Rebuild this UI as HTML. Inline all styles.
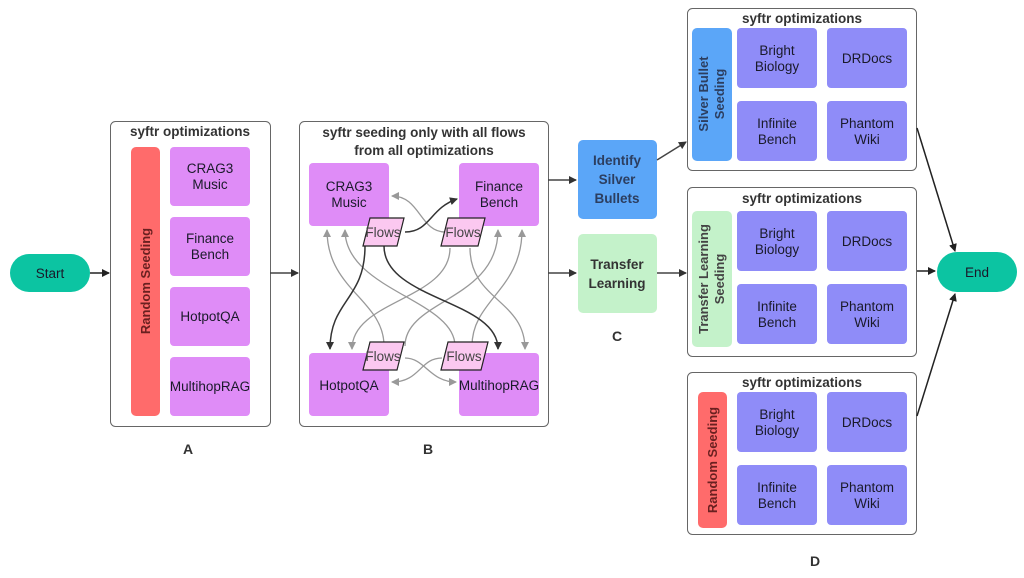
<!DOCTYPE html>
<html><head><meta charset="utf-8"><style>
html,body{margin:0;padding:0;background:#fff;}
svg{display:block;font-family:"Liberation Sans",sans-serif;}
.t{font-size:13.5px;fill:#1a1a2a;text-anchor:middle;}
.b{font-size:13.5px;fill:#333;font-weight:bold;text-anchor:middle;}
.bt{font-size:13px;fill:#444;font-weight:bold;text-anchor:middle;}
</style></head><body>
<svg width="1024" height="578" viewBox="0 0 1024 578" xmlns="http://www.w3.org/2000/svg">
<defs>
<marker id="ah" markerWidth="8" markerHeight="8" refX="7" refY="4" orient="auto" markerUnits="userSpaceOnUse"><path d="M0,0 L8,4 L0,8z" fill="#222"/></marker>
<marker id="ag" markerWidth="8" markerHeight="8" refX="7" refY="4" orient="auto" markerUnits="userSpaceOnUse"><path d="M0,0 L8,4 L0,8z" fill="#999"/></marker>
<marker id="ad" markerWidth="8" markerHeight="8" refX="7" refY="4" orient="auto" markerUnits="userSpaceOnUse"><path d="M0,0 L8,4 L0,8z" fill="#333"/></marker>
</defs>
<rect x="10" y="254" width="80" height="38" rx="19" fill="#0cc4a2"/>
<text x="50" y="278" class="t">Start</text>
<line x1="90" y1="273" x2="109" y2="273" stroke="#222" stroke-width="1.5" marker-end="url(#ah)"/>
<rect x="110.5" y="121.5" width="160" height="305" rx="5" fill="#fff" stroke="#666"/>
<text x="190" y="136" class="b">syftr optimizations</text>
<rect x="131" y="147" width="29" height="269" rx="5" fill="#ff6b6b"/>
<text transform="translate(150,281) rotate(-90)" class="bt" style="fill:#6a2020">Random Seeding</text>
<g fill="#df8cf7">
<rect x="170" y="147" width="80" height="59" rx="4"/><rect x="170" y="217" width="80" height="59" rx="4"/>
<rect x="170" y="287" width="80" height="59" rx="4"/><rect x="170" y="357" width="80" height="59" rx="4"/>
</g>
<text x="210" y="173" class="t">CRAG3</text><text x="210" y="189" class="t">Music</text>
<text x="210" y="243" class="t">Finance</text><text x="210" y="259" class="t">Bench</text>
<text x="210" y="321" class="t">HotpotQA</text>
<text x="210" y="391" class="t">MultihopRAG</text>
<text x="188" y="454" class="b" style="font-size:14px">A</text>
<line x1="270" y1="273" x2="298" y2="273" stroke="#444" stroke-width="1.5" marker-end="url(#ad)"/>
<rect x="299.5" y="121.5" width="249" height="305" rx="5" fill="#fff" stroke="#666"/>
<text x="424" y="137" class="b">syftr seeding only with all flows</text>
<text x="424" y="155" class="b">from all optimizations</text>
<g fill="#df8cf7">
<rect x="309" y="163" width="80" height="63" rx="4"/><rect x="459" y="163" width="80" height="63" rx="4"/>
<rect x="309" y="353" width="80" height="63" rx="4"/><rect x="459" y="353" width="80" height="63" rx="4"/>
</g>
<text x="349" y="191" class="t">CRAG3</text><text x="349" y="207" class="t">Music</text>
<text x="499" y="191" class="t">Finance</text><text x="499" y="207" class="t">Bench</text>
<text x="349" y="390" class="t">HotpotQA</text>
<text x="499" y="390" class="t">MultihopRAG</text>
<g fill="none" stroke="#999" stroke-width="1.3" marker-end="url(#ag)">
<path d="M445,232 C420,232 420,196 392,196"/>
<path d="M384,346 C384,300 327,290 327,230"/>
<path d="M455,346 C455,300 345,290 345,230"/>
<path d="M450,248 C450,300 352,300 352,349"/>
<path d="M405,346 C405,300 498,300 498,230"/>
<path d="M470,248 C470,300 525,300 525,349"/>
<path d="M472,346 C472,300 522,290 522,230"/>
<path d="M442,358 C420,358 420,382 392,382"/>
<path d="M405,358 C425,358 430,382 456,382"/>
</g>
<g fill="none" stroke="#333" stroke-width="1.5" marker-end="url(#ad)">
<path d="M405,232 C430,232 430,208 457,199"/>
<path d="M365,246 C365,300 330,300 330,349"/>
<path d="M384,246 C384,300 498,300 498,349"/>
</g>
<g fill="#fbc8f0" stroke="#222" stroke-width="1.2">
<path d="M370,218 L404,218 L397,246 L363,246z"/>
<path d="M448,218 L485,218 L478,246 L441,246z"/>
<path d="M370,342 L404,342 L397,370 L363,370z"/>
<path d="M448,342 L488,342 L481,370 L441,370z"/>
</g>
<text x="383" y="237" class="t" style="fill:#444">Flows</text>
<text x="463" y="237" class="t" style="fill:#444">Flows</text>
<text x="383" y="361" class="t" style="fill:#444">Flows</text>
<text x="464" y="361" class="t" style="fill:#444">Flows</text>
<text x="428" y="454" class="b" style="font-size:14px">B</text>
<line x1="548" y1="180" x2="576" y2="180" stroke="#444" stroke-width="1.5" marker-end="url(#ad)"/>
<line x1="548" y1="273" x2="576" y2="273" stroke="#444" stroke-width="1.5" marker-end="url(#ad)"/>
<rect x="578" y="140" width="79" height="79" rx="5" fill="#5ba6f8"/>
<text x="617" y="165" class="b" style="fill:#2c3e60">Identify</text>
<text x="617" y="184" class="b" style="fill:#2c3e60">Silver</text>
<text x="617" y="203" class="b" style="fill:#2c3e60">Bullets</text>
<rect x="578" y="234" width="79" height="79" rx="5" fill="#c4f2ca"/>
<text x="617" y="269" class="b">Transfer</text>
<text x="617" y="288" class="b">Learning</text>
<text x="617" y="341" class="b" style="font-size:14px">C</text>
<line x1="657" y1="160" x2="686" y2="142" stroke="#444" stroke-width="1.5" marker-end="url(#ad)"/>
<line x1="657" y1="273" x2="686" y2="273" stroke="#444" stroke-width="1.5" marker-end="url(#ad)"/>
<g>
<rect x="687.5" y="8.5" width="229" height="162" rx="5" fill="#fff" stroke="#666"/>
<text x="802" y="23" class="b">syftr optimizations</text>
<rect x="692" y="28" width="40" height="133" rx="5" fill="#5ba6f8"/>
<text transform="translate(708,94) rotate(-90)" class="bt" style="fill:#2c3e60">Silver Bullet</text>
<text transform="translate(724,94) rotate(-90)" class="bt" style="fill:#2c3e60">Seeding</text>
<g fill="#8f8cf8"><rect x="737" y="28" width="80" height="60" rx="4"/><rect x="827" y="28" width="80" height="60" rx="4"/><rect x="737" y="101" width="80" height="60" rx="4"/><rect x="827" y="101" width="80" height="60" rx="4"/></g>
<text x="777" y="55" class="t">Bright</text><text x="777" y="71" class="t">Biology</text>
<text x="867" y="63" class="t">DRDocs</text>
<text x="777" y="128" class="t">Infinite</text><text x="777" y="144" class="t">Bench</text>
<text x="867" y="128" class="t">Phantom</text><text x="867" y="144" class="t">Wiki</text>
</g>
<g>
<rect x="687.5" y="187.5" width="229" height="169" rx="5" fill="#fff" stroke="#666"/>
<text x="802" y="203" class="b">syftr optimizations</text>
<rect x="692" y="211" width="40" height="136" rx="5" fill="#c4f2ca"/>
<text transform="translate(708,279) rotate(-90)" class="bt">Transfer Learning</text>
<text transform="translate(724,279) rotate(-90)" class="bt">Seeding</text>
<g fill="#8f8cf8"><rect x="737" y="211" width="80" height="60" rx="4"/><rect x="827" y="211" width="80" height="60" rx="4"/><rect x="737" y="284" width="80" height="60" rx="4"/><rect x="827" y="284" width="80" height="60" rx="4"/></g>
<text x="777" y="238" class="t">Bright</text><text x="777" y="254" class="t">Biology</text>
<text x="867" y="246" class="t">DRDocs</text>
<text x="777" y="311" class="t">Infinite</text><text x="777" y="327" class="t">Bench</text>
<text x="867" y="311" class="t">Phantom</text><text x="867" y="327" class="t">Wiki</text>
</g>
<g>
<rect x="687.5" y="372.5" width="229" height="162" rx="5" fill="#fff" stroke="#666"/>
<text x="802" y="387" class="b">syftr optimizations</text>
<rect x="698" y="392" width="29" height="136" rx="5" fill="#ff6b6b"/>
<text transform="translate(717,460) rotate(-90)" class="bt" style="fill:#6a2020">Random Seeding</text>
<g fill="#8f8cf8"><rect x="737" y="392" width="80" height="60" rx="4"/><rect x="827" y="392" width="80" height="60" rx="4"/><rect x="737" y="465" width="80" height="60" rx="4"/><rect x="827" y="465" width="80" height="60" rx="4"/></g>
<text x="777" y="419" class="t">Bright</text><text x="777" y="435" class="t">Biology</text>
<text x="867" y="427" class="t">DRDocs</text>
<text x="777" y="492" class="t">Infinite</text><text x="777" y="508" class="t">Bench</text>
<text x="867" y="492" class="t">Phantom</text><text x="867" y="508" class="t">Wiki</text>
</g>
<text x="815" y="566" class="b" style="font-size:14px">D</text>
<line x1="917" y1="128" x2="955" y2="251" stroke="#222" stroke-width="1.5" marker-end="url(#ah)"/>
<line x1="917" y1="271" x2="935" y2="271" stroke="#222" stroke-width="1.5" marker-end="url(#ah)"/>
<line x1="917" y1="416" x2="955" y2="294" stroke="#222" stroke-width="1.5" marker-end="url(#ah)"/>
<rect x="937" y="252" width="80" height="40" rx="20" fill="#0cc4a2"/>
<text x="977" y="277" class="t">End</text>
</svg>
</body></html>
